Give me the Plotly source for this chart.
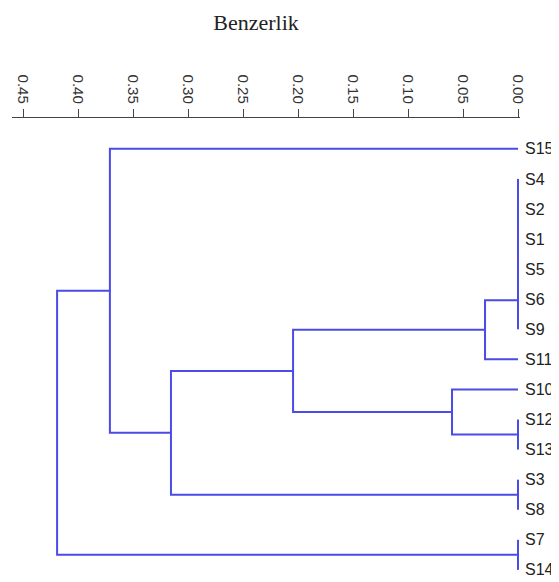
import plotly.graph_objects as go

# Leaf order (top to bottom)
leaves = ["S15", "S4", "S2", "S1", "S5", "S6", "S9", "S11", "S10",
          "S12", "S13", "S3", "S8", "S7", "S14"]

# Merges: node ids 0..14 are leaves, merges create ids 15, 16, ...
merge_left = [1, 15, 16, 17, 18, 19, 9, 8, 20, 11, 23, 0, 13, 26]
merge_right = [2, 3, 4, 5, 6, 7, 10, 21, 22, 12, 24, 25, 14, 27]
merge_height = [0.0, 0.0, 0.0, 0.0, 0.0, 0.030, 0.0, 0.060, 0.2045,
                0.0, 0.3155, 0.371, 0.0, 0.419]

tick_vals = [0.45, 0.40, 0.35, 0.30, 0.25, 0.20, 0.15, 0.10, 0.05, 0.00]
tick_text = ["0.45", "0.40", "0.35", "0.30", "0.25", "0.20", "0.15", "0.10", "0.05", "0.00"]

# positions of nodes
node_y = {i: float(i) for i in range(len(leaves))}
node_h = {i: 0.0 for i in range(len(leaves))}
xs, ys = [], []
for k, (a, b, h) in enumerate(zip(merge_left, merge_right, merge_height)):
    nid = len(leaves) + k
    xs += [node_h[a], h, h, node_h[b], None]
    ys += [node_y[a], node_y[a], node_y[b], node_y[b], None]
    node_y[nid] = (node_y[a] + node_y[b]) / 2.0
    node_h[nid] = h

W, H = 551, 574

fig = go.Figure()
fig.add_trace(go.Scatter(
    x=xs, y=ys, mode="lines",
    line=dict(color="rgb(75,75,232)", width=2),
    hoverinfo="skip", showlegend=False,
))

fig.update_layout(
    width=W, height=H,
    margin=dict(l=4, r=39, t=110, b=5),
    paper_bgcolor="white", plot_bgcolor="white",
    title=dict(text="Benzerlik", x=(256 - 8) / W, xref="container", xanchor="center",
               y=1 - (22 - 8) / H, yref="container", yanchor="middle",
               font=dict(family="Liberation Serif", size=22, color="#222")),
    xaxis=dict(
        side="top", range=[0.46, -0.0018],
        tickvals=tick_vals, ticktext=tick_text, tickangle=90,
        ticks="outside", ticklen=8, tickcolor="#444", tickwidth=1,
        showline=True, linecolor="#444", linewidth=1,
        showgrid=False, zeroline=False,
        tickfont=dict(family="Liberation Sans", size=15, color="#333"),
    ),
    yaxis=dict(
        side="right", range=[14.17, -1.026],
        tickvals=list(range(len(leaves))), ticktext=leaves,
        ticks="", showline=False, showgrid=False, zeroline=False,
        ticklabelstandoff=4,
        tickfont=dict(family="Liberation Sans", size=16, color="#222"),
    ),
)

fig.write_html("out.html")
